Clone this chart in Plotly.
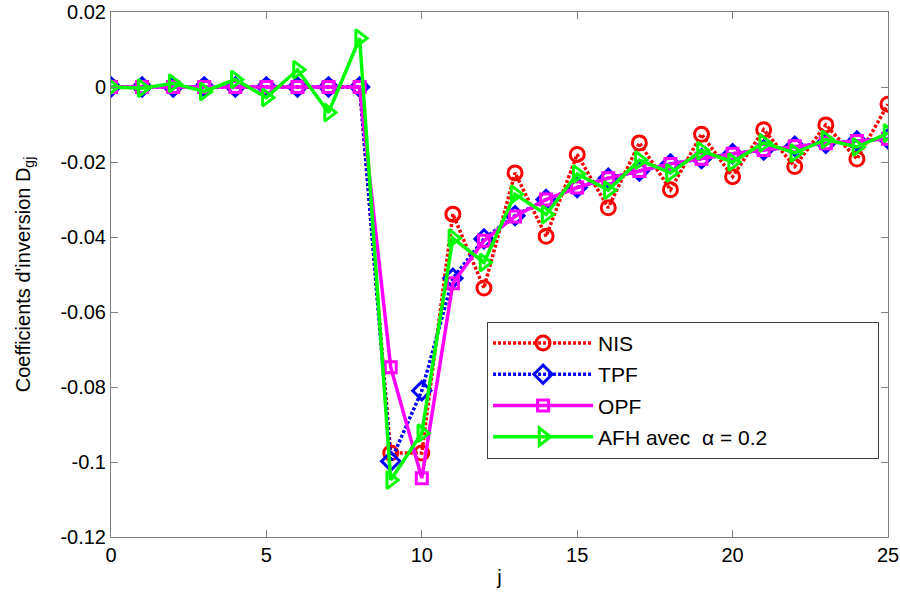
import plotly.graph_objects as go

j = list(range(26))

nis = [0, 0, 0, 0, 0, 0, 0, 0, 0,
       -0.0976, -0.0976, -0.0339, -0.0536, -0.0229, -0.0398, -0.0180, -0.0322,
       -0.0149, -0.0274, -0.0126, -0.0239, -0.0114, -0.0212, -0.0101, -0.0192, -0.0046]
tpf = [0, 0, 0, 0, 0, 0, 0, 0, 0,
       -0.0998, -0.0810, -0.0510, -0.0405, -0.0343, -0.0300, -0.0268, -0.0243,
       -0.0224, -0.0205, -0.0191, -0.0178, -0.0168, -0.0158, -0.0150, -0.0144, -0.0138]
opf = [0, 0, 0, 0, 0, 0, 0, 0, 0,
       -0.0747, -0.1043, -0.0523, -0.0410, -0.0345, -0.0300, -0.0268, -0.0243,
       -0.0224, -0.0205, -0.0191, -0.0178, -0.0168, -0.0158, -0.0150, -0.0144, -0.0138]
afh = [0, -0.0003, 0.0010, -0.0012, 0.0020, -0.0028, 0.0046, -0.0068, 0.0130,
       -0.1048, -0.0923, -0.0403, -0.0468, -0.0286, -0.0340, -0.0232, -0.0275,
       -0.0195, -0.0229, -0.0170, -0.0200, -0.0149, -0.0176, -0.0140, -0.0160, -0.0123]

names = ["NIS", "TPF", "OPF", "AFH avec  \u03b1 = 0.2"]

x_ticks = [0, 5, 10, 15, 20, 25]
y_ticks = [-0.12, -0.1, -0.08, -0.06, -0.04, -0.02, 0, 0.02]
y_ticktext = ["-0.12", "-0.1", "-0.08", "-0.06", "-0.04", "-0.02", "0", "0.02"]

FONT = "Liberation Sans, Arial, sans-serif"
PAD = "\u00a0" * 18

fig = go.Figure()
fig.add_trace(go.Scatter(x=j, y=nis, name=names[0], mode="lines+markers", legendgroup="a",
                         line=dict(color="#ff0000", width=3.5, dash="3px,2px"),
                         marker=dict(symbol="circle-open", size=14, color="#ff0000",
                                     line=dict(width=3, color="#ff0000"))))
fig.add_trace(go.Scatter(x=j, y=tpf, name=names[1], mode="lines+markers", legendgroup="b",
                         line=dict(color="#0000ff", width=3.5, dash="3px,2px"),
                         marker=dict(symbol="diamond-open", size=14, color="#0000ff",
                                     line=dict(width=3, color="#0000ff"))))
fig.add_trace(go.Scatter(x=j, y=opf, name=names[2], mode="lines+markers", legendgroup="c",
                         line=dict(color="#ff00ff", width=3.5),
                         marker=dict(symbol="square-open", size=11, color="#ff00ff",
                                     line=dict(width=3, color="#ff00ff"))))
fig.add_trace(go.Scatter(x=j, y=afh, name=names[3] + PAD, mode="lines+markers", legendgroup="d",
                         line=dict(color="#00ff00", width=3.5),
                         marker=dict(symbol="triangle-right-open", size=15, color="#00ff00",
                                     line=dict(width=3, color="#00ff00"))))

axis_common = dict(showline=True, linecolor="#808080", linewidth=1, mirror="ticks",
                   ticks="inside", ticklen=7, tickcolor="#808080", showgrid=False,
                   zeroline=False, automargin=False,
                   tickfont=dict(size=20, color="black", family=FONT))
fig.update_xaxes(range=[0, 25], tickvals=x_ticks,
                 title=dict(text="j", font=dict(size=20, color="black", family=FONT), standoff=4),
                 **axis_common)
fig.update_yaxes(range=[-0.12, 0.02], tickvals=y_ticks, ticktext=y_ticktext,
                 title=dict(text="Coefficients d'inversion D<sub>gj</sub>",
                            font=dict(size=20, color="black", family=FONT), standoff=24),
                 **axis_common)

fig.update_layout(
    width=900, height=596,
    margin=dict(l=111, r=12, t=12, b=59),
    paper_bgcolor="white", plot_bgcolor="white",
    font=dict(family=FONT, color="black"),
    showlegend=True,
    legend=dict(x=0.484, y=0.41, xanchor="left", yanchor="top",
                bgcolor="white", bordercolor="#404040", borderwidth=1,
                font=dict(size=21, color="black", family=FONT), itemwidth=100,
                tracegroupgap=1),
)

fig.write_html("out.html", config={"displayModeBar": False},
               post_script="document.body.style.margin='0';document.body.style.overflow='hidden';")
